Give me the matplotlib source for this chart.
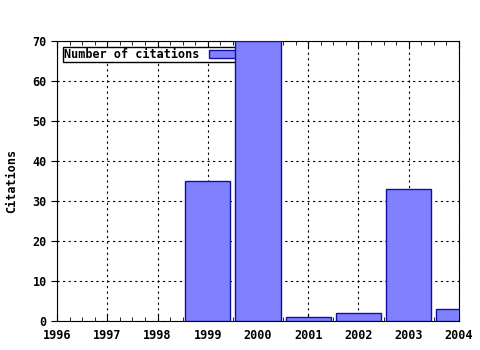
import matplotlib
matplotlib.use("Agg")
from matplotlib import pyplot as plt
from matplotlib.ticker import MultipleLocator

years = [1999, 2000, 2001, 2002, 2003, 2004]
citations = [35, 70, 1, 2, 33, 3]
xticks = [1996, 1997, 1998, 1999, 2000, 2001, 2002, 2003, 2004]
yticks = [0, 10, 20, 30, 40, 50, 60, 70]

plt.rcParams["font.family"] = "DejaVu Sans Mono"
plt.rcParams["font.weight"] = "bold"
plt.rcParams["font.size"] = 8.5

fig = plt.figure(figsize=(4.8, 3.5), dpi=100)
ax = fig.add_axes([0.119, 0.083, 0.837, 0.8])

ax.bar(years, citations, width=0.9, color="#8080ff", edgecolor="#1010a0",
       linewidth=1, label="Number of citations", zorder=3)

ax.set_xlim(1996, 2004)
ax.set_ylim(0, 70)
ax.set_xticks(xticks)
ax.set_xticklabels([str(x) for x in xticks])
ax.set_yticks(yticks)
ax.xaxis.set_minor_locator(MultipleLocator(0.25))
ax.grid(True, linestyle=(0, (2, 3)), color="black", linewidth=0.8, zorder=0)
ax.set_axisbelow(True)
ax.tick_params(axis="x", which="both", direction="in", top=True, pad=6)
ax.tick_params(axis="x", which="major", length=5)
ax.tick_params(axis="x", which="minor", length=3)
ax.tick_params(axis="y", direction="out", length=4)
ax.set_ylabel("Citations", fontweight="bold", labelpad=10)

leg = ax.legend(loc="upper left", markerfirst=False, fancybox=False,
                framealpha=1, edgecolor="black", borderpad=0.1,
                handlelength=2.5, handleheight=0.6, borderaxespad=0.5)
leg.get_frame().set_linewidth(1)
leg.set_zorder(2)

fig.savefig("out.png", dpi=100)
